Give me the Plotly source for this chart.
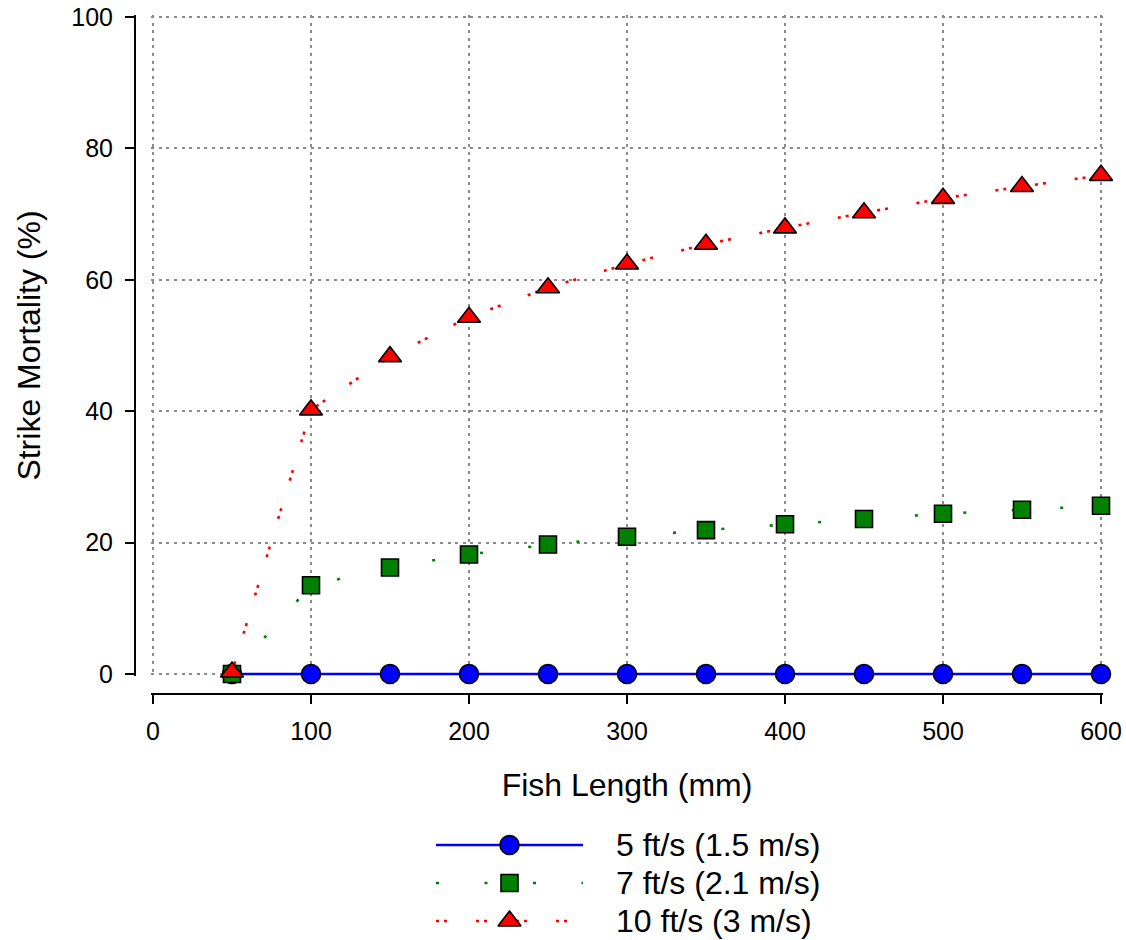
import plotly.graph_objects as go

# ---- data ----
fish_length = [50, 100, 150, 200, 250, 300, 350, 400, 450, 500, 550, 600]
mort_5fts = [0, 0, 0, 0, 0, 0, 0, 0, 0, 0, 0, 0]
mort_7fts = [0, 13.5, 16.2, 18.2, 19.7, 20.9, 21.9, 22.8, 23.6, 24.4, 25.0, 25.6]
mort_10fts = [0.3, 40.2, 48.3, 54.3, 58.8, 62.4, 65.4, 67.9, 70.2, 72.4, 74.2, 75.9]
series_names = ["5 ft/s (1.5 m/s)", "7 ft/s (2.1 m/s)", "10 ft/s (3 m/s)"]
x_ticks = [0, 100, 200, 300, 400, 500, 600]
y_ticks = [0, 20, 40, 60, 80, 100]

W, H = 1126, 940
FONT = "Liberation Sans, Arial, sans-serif"

# pixel frame of the plotting area (value 0 -> left/bottom, max -> right/top)
PX_L, PX_R, PX_T, PX_B = 153, 1101, 17, 674
X_MIN, X_MAX, Y_MIN, Y_MAX = 0, 600, 0, 100
# pad the ranges slightly so boundary grid lines are kept
XPAD, YPAD = 1.2, 0.3
xs = (PX_R - PX_L) / (X_MAX - X_MIN)
ys = (PX_B - PX_T) / (Y_MAX - Y_MIN)
x_dom = [(PX_L - XPAD * xs) / W, (PX_R + XPAD * xs) / W]
y_dom = [(H - PX_B - YPAD * ys) / H, (H - PX_T + YPAD * ys) / H]

styles = [
    dict(color="#0000ff", dash="solid", symbol="circle", size=19),
    dict(color="#008000", dash="3px,45.5px", symbol="square", size=17),
    dict(color="#ff0000", dash="3px,5px,3px,29px", symbol="triangle-up", size=20),
]
values = [mort_5fts, mort_7fts, mort_10fts]

fig = go.Figure()
for name, vals, st in zip(series_names, values, styles):
    fig.add_trace(go.Scatter(
        x=fish_length, y=vals, name=name, mode="lines+markers",
        line=dict(color=st["color"], width=2.6, dash=st["dash"]),
        marker=dict(symbol=st["symbol"], size=st["size"], color=st["color"],
                    line=dict(color="black", width=1.6)),
        cliponaxis=False, showlegend=False,
        xaxis="x", yaxis="y",
    ))

# custom legend (long line samples) on its own small axes
for i, (name, st) in enumerate(zip(series_names, styles)):
    fig.add_trace(go.Scatter(
        x=[0, 1], y=[i, i], mode="lines",
        line=dict(color=st["color"], width=2.6, dash=st["dash"]),
        showlegend=False, hoverinfo="skip", cliponaxis=False,
        xaxis="x2", yaxis="y2",
    ))
    fig.add_trace(go.Scatter(
        x=[0.5], y=[i], mode="markers",
        marker=dict(symbol=st["symbol"], size=st["size"], color=st["color"],
                    line=dict(color="black", width=1.6)),
        showlegend=False, hoverinfo="skip", cliponaxis=False,
        xaxis="x2", yaxis="y2",
    ))
    fig.add_annotation(
        x=614 / W, xref="paper", xanchor="left",
        y=i, yref="y2", yanchor="middle",
        text=name, showarrow=False,
        font=dict(family=FONT, size=32, color="black"),
    )

grid = dict(showgrid=True, gridcolor="#8a8a8a", gridwidth=1.6, griddash="3px,4.6px")

fig.update_layout(
    width=W, height=H,
    margin=dict(l=0, r=0, t=0, b=0, autoexpand=False),
    paper_bgcolor="white", plot_bgcolor="white",
    font=dict(family=FONT, color="black"),
    showlegend=False,
    xaxis=dict(
        domain=x_dom, range=[X_MIN - XPAD, X_MAX + XPAD],
        anchor="free", position=(H - 694) / H, automargin=False,
        tickmode="array", tickvals=x_ticks,
        ticks="outside", ticklen=9, tickwidth=2, tickcolor="black",
        showline=True, linecolor="black", linewidth=2,
        zeroline=False,
        tickfont=dict(size=25, family=FONT, color="black"),
        ticklabelstandoff=6,
        title=dict(text="Fish Length (mm)", font=dict(size=32, family=FONT, color="black"), standoff=29),
        **grid,
    ),
    yaxis=dict(
        domain=y_dom, range=[Y_MIN - YPAD, Y_MAX + YPAD],
        anchor="free", position=135 / W, automargin=False,
        tickmode="array", tickvals=y_ticks,
        ticks="outside", ticklen=9, tickwidth=2, tickcolor="black",
        showline=True, linecolor="black", linewidth=2,
        zeroline=False,
        tickfont=dict(size=25, family=FONT, color="black"),
        ticklabelstandoff=7,
        title=dict(text="Strike Mortality (%)", font=dict(size=32, family=FONT, color="black"), standoff=20),
        **grid,
    ),
    xaxis2=dict(domain=[436 / W, 583 / W], range=[0, 1], visible=False, fixedrange=True,
                anchor="y2"),
    yaxis2=dict(domain=[0, 114 / H], range=[2.5, -0.5], visible=False, fixedrange=True,
                anchor="x2"),
)

fig.write_html("out.html")
